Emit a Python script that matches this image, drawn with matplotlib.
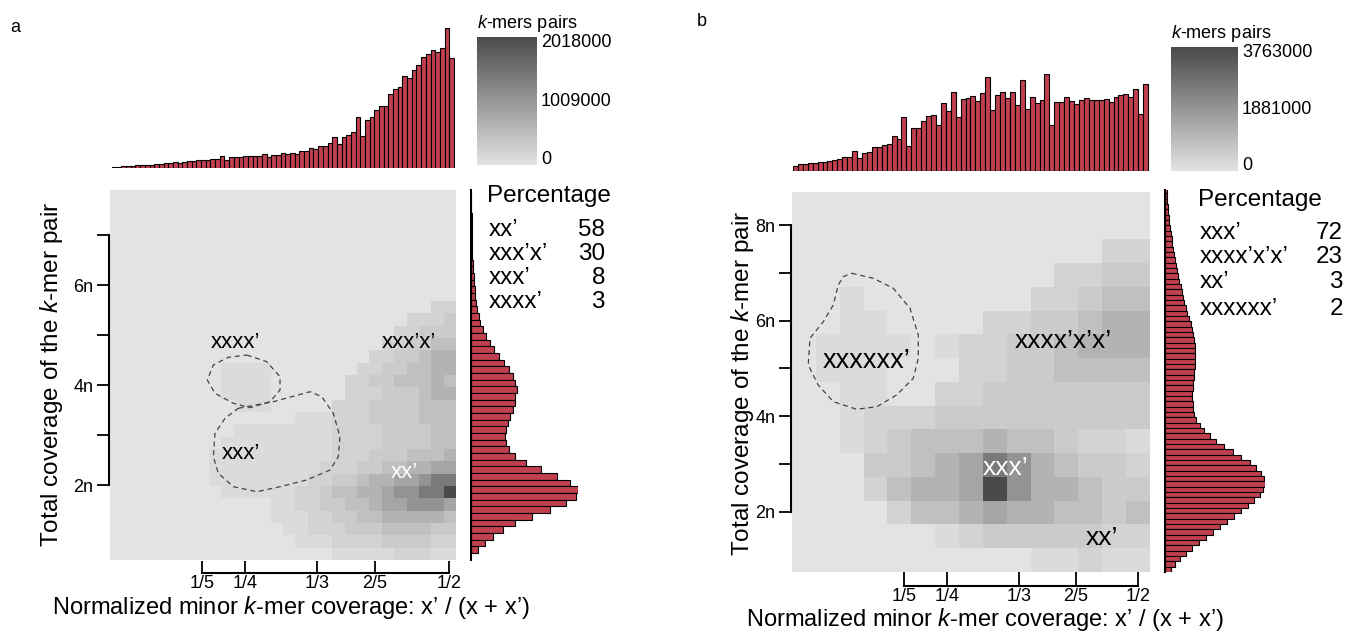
import numpy as np
import matplotlib.pyplot as plt
from matplotlib.colors import LinearSegmentedColormap

plt.rcParams['font.family'] = ['Liberation Sans', 'DejaVu Sans']
plt.rcParams['mathtext.fontset'] = 'custom'
plt.rcParams['mathtext.rm'] = 'Liberation Sans'
plt.rcParams['mathtext.it'] = 'Liberation Sans:italic'

W, H = 1349, 632

# heat levels: 0 = empty, 9 = colour bar maximum
level_frac = [0, .05, .10, .16, .23, .31, .40, .52, .68, 1.0]

# ---------------- panel a ----------------
a_heat = [
    '0000000000000000000000000000',
    '0000000000000000000000000000',
    '0000000000000000000000000000',
    '0000000000000000000000000000',
    '0000000000000000000000000000',
    '0000000000000000000000000000',
    '0000000000000000000000000000',
    '0000000000000000000000000000',
    '0000000000000000000000000000',
    '0000000000000000000000000022',
    '0000000000000000000000002223',
    '0000000000000000000000022333',
    '0000000000000000000000223344',
    '0000000000000000000002233455',
    '0000000001111000000022334455',
    '0000000001111000000223344454',
    '0000000001111000000222333455',
    '0000000000111000002223333444',
    '0000000000000001112223333444',
    '0000000000111111112222333344',
    '0000000001111111112222333344',
    '0000000011111111112223334445',
    '0000000011111111122233445566',
    '0000000011111111223345566788',
    '0000000001111112234455677889',
    '0000000000000112233445667776',
    '0000000000000111223344555554',
    '0000000000000011222333444433',
    '0000000000000001112222333322',
    '0000000000000000001111122211',
]
a_top_hist = [3, 4, 5, 6, 7, 8, 8, 9, 10, 11, 12, 14, 15, 18, 15, 19, 20, 21, 23, 24,
              25, 27, 27, 35, 25, 32, 32, 33, 35, 35, 37, 37, 42, 33, 40, 40, 45, 42, 45, 43,
              50, 52, 60, 57, 65, 65, 75, 92, 73, 93, 100, 108, 153, 96, 144, 153, 174, 185,
              187, 222, 238, 243, 275, 270, 295, 308, 333, 342, 355, 348, 360, 420, 330]
# side histogram, from top (high coverage) to bottom
a_side_hist = [1, 1, 1, 2, 2, 2, 3, 3, 4, 4, 5, 7, 8, 10, 12, 13, 15, 17, 23, 27,
               35, 45, 57, 70, 85, 98, 113, 125, 132, 137, 133, 131, 125, 117, 110, 105,
               102, 105, 113, 133, 165, 210, 257, 297, 320, 315, 285, 235, 183, 133, 95,
               65, 42, 22]
a_cbar_labels = ['2018000', '1009000', '0']
a_pct_names = ['xx’', 'xxx’x’', 'xxx’', 'xxxx’']
a_pct_values = [58, 30, 8, 3]
a_xtick_pos = [0.2, 0.25, 1 / 3, 0.4, 0.4855]
a_xtick_lab = ['1/5', '1/4', '1/3', '2/5', '1/2']
a_ytick_pos = [2, 3, 4, 5, 6, 7]
a_ytick_lab = ['2n', '', '4n', '', '6n', '']
a_contour1_x = [0.2517, 0.2748, 0.2902, 0.2902, 0.2786, 0.2555, 0.2362, 0.2150, 0.2061, 0.2131, 0.2304]
a_contour1_y = [4.60, 4.466, 4.166, 3.90, 3.666, 3.546, 3.634, 3.834, 4.10, 4.40, 4.554]
a_contour2_x = [0.2420, 0.2824, 0.3249, 0.3384, 0.3518, 0.3595, 0.3576, 0.3480, 0.3210, 0.2902,
                0.2632, 0.2362, 0.2188, 0.2131, 0.2150, 0.2266]
a_contour2_y = [3.534, 3.666, 3.866, 3.766, 3.434, 2.966, 2.566, 2.30, 2.10, 1.966, 1.866, 1.966,
                2.234, 2.566, 3.034, 3.334]

# ---------------- panel b ----------------
b_heat = [
    '000000000000000',
    '000000000000000',
    '000000000000022',
    '000000000002233',
    '001000000022344',
    '001100002233455',
    '011110122334555',
    '011100022334444',
    '001100223333333',
    '001222333333333',
    '001234445443221',
    '000334568754332',
    '000245569755433',
    '000024456554434',
    '000000123333322',
    '000000000011211',
]
b_top_hist = [16, 20, 20, 23, 23, 27, 27, 30, 32, 35, 41, 41, 60, 38, 55, 58, 71, 73, 79, 82,
              105, 95, 161, 75, 128, 128, 150, 163, 168, 137, 204, 178, 237, 161, 216, 218, 225,
              210, 233, 281, 183, 226, 236, 219, 236, 198, 273, 185, 221, 204, 212, 290, 137,
              207, 207, 221, 210, 200, 211, 217, 212, 211, 212, 214, 207, 221, 227, 229, 220,
              246, 170, 261]
b_side_hist = [5, 6, 7, 8, 9, 11, 13, 15, 17, 20, 22, 25, 28, 31, 33, 37, 40, 43, 47, 51,
               55, 58, 63, 67, 71, 77, 81, 85, 87, 89, 90, 91, 90, 89, 88, 87, 85, 83, 82, 82,
               83, 85, 88, 93, 105, 118, 135, 155, 178, 205, 230, 255, 275, 290, 298, 301, 295,
               285, 268, 250, 230, 208, 188, 165, 143, 122, 102, 80, 62, 45, 30, 18]
b_cbar_labels = ['3763000', '1881000', '0']
b_pct_names = ['xxx’', 'xxxx’x’x’', 'xx’', 'xxxxxx’']
b_pct_values = [72, 23, 3, 2]
b_xtick_pos = [0.2, 0.25, 1 / 3, 0.4, 0.4721]
b_xtick_lab = ['1/5', '1/4', '1/3', '2/5', '1/2']
b_ytick_pos = [2, 3, 4, 5, 6, 7, 8]
b_ytick_lab = ['2n', '', '4n', '', '6n', '', '8n']
b_contour_x = [0.1392, 0.1643, 0.1876, 0.2070, 0.2166, 0.2166, 0.2108, 0.1915, 0.1683, 0.1450,
               0.1178, 0.1003, 0.0887, 0.0907, 0.1062, 0.1178, 0.1236, 0.1294]
b_contour_y = [6.991, 6.886, 6.677, 6.259, 5.701, 5.213, 4.795, 4.446, 4.201, 4.147, 4.306,
               4.655, 5.073, 5.632, 5.979, 6.328, 6.746, 6.920]

bar_color = '#c0404f'
cmap = LinearSegmentedColormap.from_list('kgray', ['#e3e3e3', '#4a4a4a'])


def box(l, t, r, b):
    return [l / W, 1 - b / H, (r - l) / W, (b - t) / H]


def ftext(px, py, s, **kw):
    fig.text(px / W, 1 - py / H, s, **kw)


def levels(rows):
    return np.array([[level_frac[int(c)] for c in row] for row in rows])


def draw_panel(p, heat, top_hist, side_hist, xticks, xlabels, yticks, ylabels, contours,
               cbar_labels, pct_names, pct_values):
    # heatmap
    ax = fig.add_axes(box(*p['heat_box']))
    ax.imshow(levels(heat), cmap=cmap, vmin=0, vmax=1, aspect='auto',
              interpolation='nearest', extent=p['extent'], origin='upper')
    ax.set_xlim(p['extent'][0], p['extent'][1])
    ax.set_ylim(p['extent'][2], p['extent'][3])
    for s in ['top', 'right']:
        ax.spines[s].set_visible(False)
    ax.spines['left'].set_bounds(yticks[0], yticks[-1])
    ax.spines['left'].set_position(('outward', 1))
    ax.spines['bottom'].set_bounds(xticks[0], xticks[-1])
    ax.spines['bottom'].set_position(('outward', p['xoff']))
    for s in ['left', 'bottom']:
        ax.spines[s].set_linewidth(1.5)
    ax.set_xticks(xticks, xlabels)
    ax.set_yticks(yticks, ylabels)
    ax.tick_params(axis='x', direction='in', length=p['xoff'], width=1.3, labelsize=13,
                   pad=1.5)
    ax.tick_params(axis='y', direction='out', length=9, width=1.3, labelsize=13, pad=2)
    for cx, cy in contours:
        ax.plot(cx + cx[:1], cy + cy[:1], color='#444444', lw=0.9, dashes=(4, 3))
    for s, x, y, col, fs in p['notes']:
        ax.text(x, y, s, color=col, fontsize=fs, ha='left', va='baseline')

    # top histogram
    axt = fig.add_axes(box(*p['top_box']))
    edges = np.linspace(p['top_span'][0], p['top_span'][1], len(top_hist) + 1)
    axt.bar(edges[:-1], top_hist, width=np.diff(edges), align='edge', color=bar_color,
            edgecolor='black', linewidth=0.8)
    axt.set_xlim(p['extent'][0], p['extent'][1])
    axt.set_ylim(0, max(top_hist))
    axt.axis('off')

    # side histogram
    axs = fig.add_axes(box(*p['side_box']))
    edges = np.linspace(p['side_span'][1], p['side_span'][0], len(side_hist) + 1)
    axs.barh(edges[1:], side_hist, height=-np.diff(edges), align='edge', color=bar_color,
             edgecolor='black', linewidth=0.8)
    axs.set_ylim(p['side_lim'])
    axs.set_xlim(0, max(side_hist))
    for s in ['top', 'right', 'bottom']:
        axs.spines[s].set_visible(False)
    axs.spines['left'].set_linewidth(1.5)
    axs.set_xticks([])
    axs.set_yticks([])

    # colour bar
    axc = fig.add_axes(box(*p['cbar_box']))
    axc.imshow(np.linspace(1, 0, 256)[:, None], cmap=cmap, aspect='auto', extent=(0, 1, 0, 1))
    axc.axis('off')
    cl, ct, cr, cb = p['cbar_box']
    ftext(cl, ct - 9, '$k$-mers pairs', fontsize=13, ha='left', va='baseline')
    ftext(cr + 4, ct - 3, cbar_labels[0], fontsize=13, ha='left', va='top')
    ftext(cr + 4, (ct + cb) / 2, cbar_labels[1], fontsize=13, ha='left', va='center')
    ftext(cr + 4, cb + 3, cbar_labels[2], fontsize=13, ha='left', va='bottom')

    # percentage table
    tl, tr, tb = p['table']
    ftext(tl - 2, tb[0], 'Percentage', fontsize=17.5, ha='left', va='baseline')
    for name, val, y in zip(pct_names, pct_values, tb[1:]):
        ftext(tl, y, name, fontsize=17.5, ha='left', va='baseline')
        ftext(tr, y, str(val), fontsize=17.5, ha='right', va='baseline')

    # labels
    ftext(*p['xlabel_pos'], 'Normalized minor $k$-mer coverage: x’ / (x + x’)', fontsize=17,
          ha='center', va='baseline')
    ftext(*p['ylabel_pos'], 'Total coverage of the $k$-mer pair', fontsize=17.5,
          ha='center', va='center', rotation=90)
    ftext(*p['tag'], fontsize=13, ha='left', va='center')


fig = plt.figure(figsize=(W / 100, H / 100), dpi=100)

layout_a = dict(
    heat_box=(110, 190, 455, 560), extent=(0.0936, 0.4925, 0.5, 7.9), xoff=9,
    top_box=(110, 28, 455, 168), top_span=(0.096, 0.4913),
    side_box=(471, 190, 578, 560), side_span=(0.64, 7.84), side_lim=(0.5, 7.9),
    cbar_box=(477, 37, 537, 165),
    table=(489, 605, [202, 236, 260, 284, 308]),
    notes=[('xxxx’', 0.2104, 4.74, 'black', 16), ('xxx’x’', 0.4075, 4.74, 'black', 16),
           ('xxx’', 0.2231, 2.52, 'black', 16), ('xx’', 0.4185, 2.14, 'white', 16)],
    xlabel_pos=(291, 614), ylabel_pos=(52, 374), tag=(10, 28, 'a'),
)
draw_panel(layout_a, a_heat, a_top_hist, a_side_hist, a_xtick_pos, a_xtick_lab,
           a_ytick_pos, a_ytick_lab, [(a_contour1_x, a_contour1_y), (a_contour2_x, a_contour2_y)],
           a_cbar_labels, a_pct_names, a_pct_values)

layout_b = dict(
    heat_box=(792, 192, 1150, 572), extent=(0.0698, 0.486, 0.745, 8.69), xoff=10,
    top_box=(792, 74, 1150, 171), top_span=(0.0709, 0.4837),
    side_box=(1165, 190, 1265, 572), side_span=(0.745, 8.73), side_lim=(0.745, 8.69),
    cbar_box=(1171, 47, 1238, 171),
    table=(1200, 1343, [206, 239, 263, 288, 315]),
    notes=[('xxxxxx’', 0.1058, 5.01, 'black', 19.5), ('xxxx’x’x’', 0.3291, 5.43, 'black', 19),
           ('xxx’', 0.2919, 2.77, 'white', 19), ('xx’', 0.4116, 1.31, 'black', 19)],
    xlabel_pos=(985, 626), ylabel_pos=(742, 383), tag=(697, 22, 'b'),
)
draw_panel(layout_b, b_heat, b_top_hist, b_side_hist, b_xtick_pos, b_xtick_lab,
           b_ytick_pos, b_ytick_lab, [(b_contour_x, b_contour_y)],
           b_cbar_labels, b_pct_names, b_pct_values)

fig.savefig('out.png', dpi=100)
